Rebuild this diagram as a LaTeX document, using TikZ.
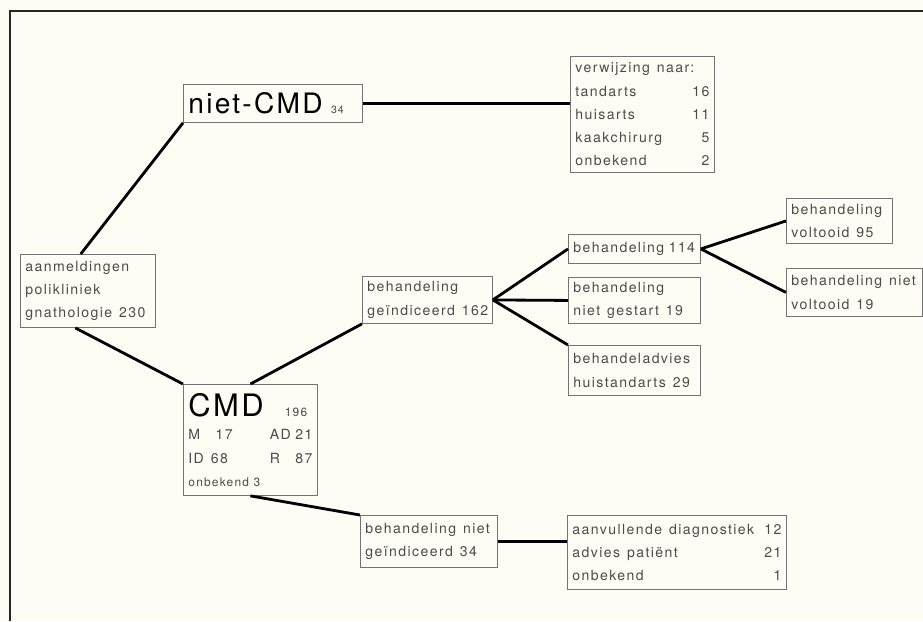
\documentclass[tikz,border=0pt]{standalone}
\usepackage{fontspec}
\setmainfont{TeX Gyre Heros}[LetterSpace=10]
\newfontfamily\bigfont{TeX Gyre Heros}[LetterSpace=8]
\usetikzlibrary{calc}
\definecolor{paper}{RGB}{253,253,246}
\definecolor{ink}{RGB}{75,75,75}
\definecolor{rim}{RGB}{115,115,115}
\newcommand{\rgt}{\hspace{0pt plus 1filll}}

\begin{document}
\begin{tikzpicture}[x=0.025cm,y=-0.025cm,
    box/.style={draw=rim, line width=0.6pt, anchor=north west, inner xsep=0.125cm,
      inner ysep=0pt, text=ink, align=left, font=\fontsize{10}{16.5}\selectfont},
    link/.style={line width=2pt, black}]
  \fill[paper] (0,0) rectangle (923,621);%
  \useasboundingbox (0,0) rectangle (923,621);%
  \draw[line width=1.4pt, black!85] (10,621) -- (10,11) -- (923,11);%

  % boxes
  \node[box, text width=3.125cm, minimum height=1.825cm] (aanm) at (20,254)
    {aanmeldingen\\polikliniek\\gnathologie~\,230};%
  \node[box, text width=4.225cm, minimum height=0.95cm] (nietcmd) at (183,84)
    {{\color{black}\bigfont\fontsize{20}{20}\selectfont niet-CMD}\hspace{0.6em}{\fontsize{7.5}{7.5}\selectfont 34}};%
  \node[box, text width=3.35cm, minimum height=2.9cm] (verw) at (570,56)
    {verwijzing~\,naar:\\tandarts\rgt 16\\huisarts\rgt 11\\kaakchirurg\rgt 5\\onbekend\rgt 2};%
  \node[box, text width=3.1cm, minimum height=2.775cm] (cmd) at (183,384)
    {{\color{black}\bigfont\fontsize{22}{22}\selectfont CMD}\hspace{1.5em}{\fontsize{8.5}{8.5}\selectfont 196}\\
     M\hspace{1.1em}17\rgt AD 21\\ID~\,68\rgt R\hspace{1.1em}87\\
     {\fontsize{8.5}{8.5}\selectfont onbekend~3}};%
  \node[box, text width=3.0cm, minimum height=1.175cm] (ind) at (362,276)
    {behandeling\\geïndiceerd~\,162};%
  \node[box, text width=3.05cm, minimum height=0.725cm] (b114) at (568,234)
    {behandeling~114};%
  \node[box, text width=3.05cm, minimum height=1.15cm] (gestart) at (568,277)
    {behandeling\\niet~\,gestart~\,19};%
  \node[box, text width=3.05cm, minimum height=1.25cm] (advies) at (568,345)
    {behandeladvies\\huistandarts~\,29};%
  \node[box, text width=2.4cm, minimum height=1.125cm] (volt) at (786,198)
    {behandeling\\voltooid~\,95};%
  \node[box, text width=3.15cm, minimum height=1.2cm] (nvolt) at (786,268)
    {behandeling~\,niet\\voltooid~\,19};%
  \node[box, text width=3.175cm, minimum height=1.3cm] (nind) at (360,515)
    {behandeling~\,niet\\geïndiceerd~\,34};%
  \node[box, text width=5.225cm, minimum height=1.85cm] (aanv) at (567,515)
    {aanvullende~\,diagnostiek\rgt 12\\advies~\,patiënt\rgt 21\\onbekend\rgt 1};%

  % connectors
  \draw[link] (aanm.101) -- (nietcmd.south west);%
  \draw[link] (aanm.251) -- (cmd.north west);%
  \draw[link] (cmd.north) -- (ind.south west);%
  \draw[link] (nietcmd.east) -- (nietcmd.east -| verw.west);%
  \foreach \n in {b114.west, gestart.west, advies.north west}
    \draw[link] (ind.east) -- (\n);%
  \foreach \n in {volt, nvolt}
    \draw[link] (b114.east) -- (\n.west);%
  \draw[link] (cmd.south) -- (nind.north west);%
  \draw[link] (nind.east) -- (nind.east -| aanv.west);%
\end{tikzpicture}
\end{document}
